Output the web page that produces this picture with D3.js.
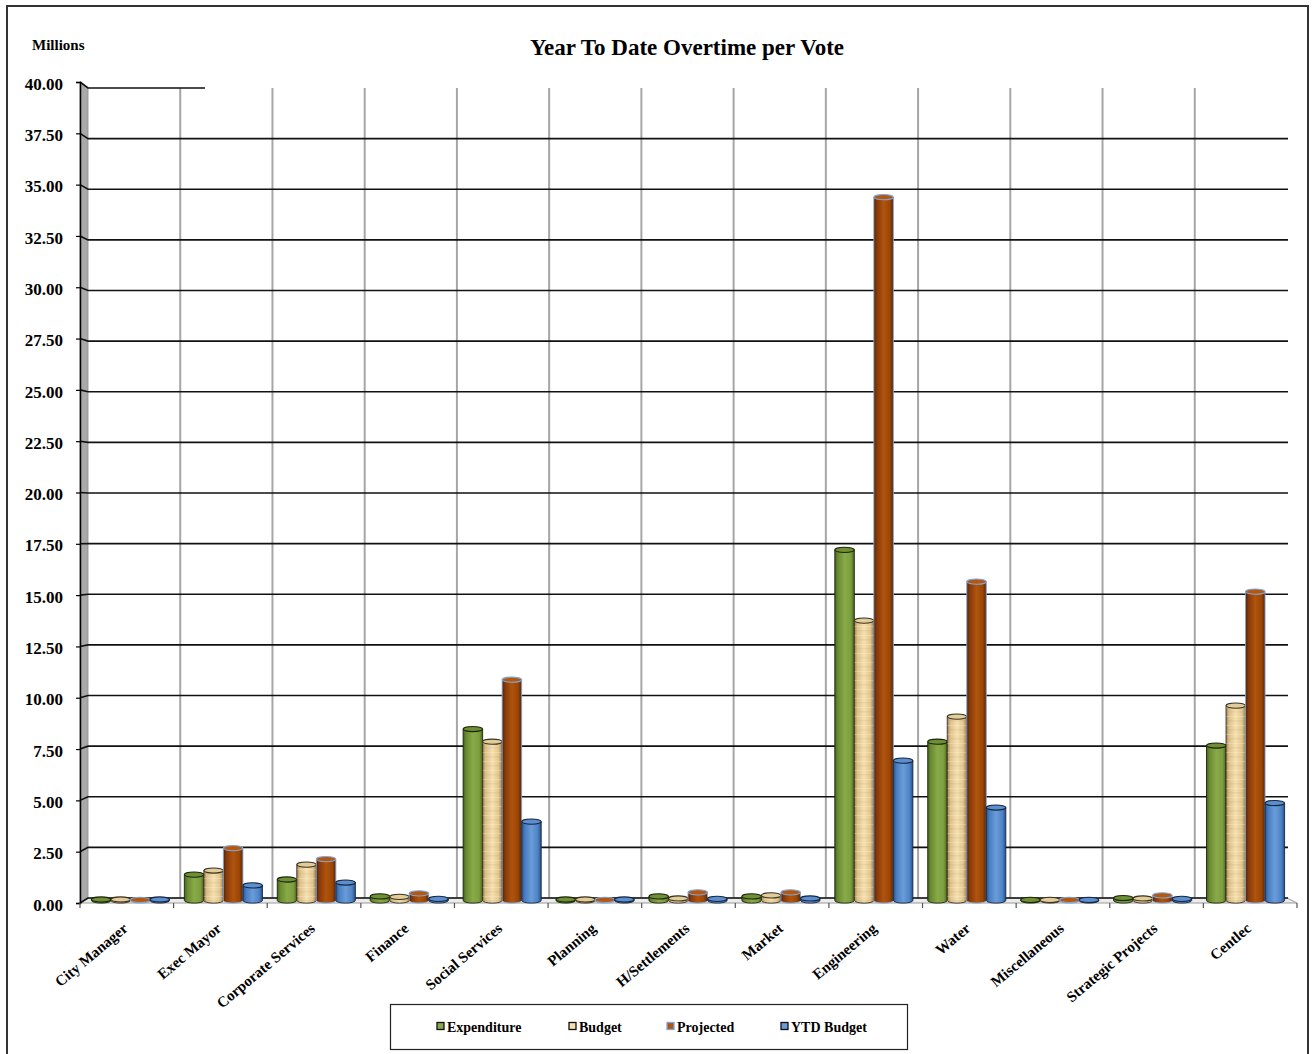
<!DOCTYPE html>
<html>
<head>
<meta charset="utf-8">
<script src="https://cdn.jsdelivr.net/npm/d3@7"></script>
<style>
  html, body { margin: 0; padding: 0; background: #fff; }
  svg { display: block; }
  text { font-family: "Liberation Serif", "Times New Roman", serif; font-weight: bold; fill: #000; }
</style>
</head>
<body>
<svg id="chart" width="1315" height="1054"></svg>
<script>
// Overtime per vote, in millions
const categories = ["City Manager", "Exec Mayor", "Corporate Services", "Finance", "Social Services",
  "Planning", "H/Settlements", "Market", "Engineering", "Water", "Miscellaneous", "Strategic Projects", "Centlec"];
const expenditure = [0.05, 1.27, 1.03, 0.20, 8.41, 0.05, 0.20, 0.20, 17.20, 7.79, 0.03, 0.12, 7.60];
const budget      = [0.05, 1.47, 1.76, 0.18, 7.79, 0.05, 0.10, 0.25, 13.73, 9.02, 0.03, 0.10, 9.56];
const projected   = [0.03, 2.57, 2.03, 0.35, 10.83, 0.03, 0.40, 0.40, 34.50, 15.64, 0.03, 0.25, 15.15];
const ytdBudget   = [0.05, 0.74, 0.88, 0.08, 3.87, 0.05, 0.08, 0.10, 6.86, 4.56, 0.03, 0.08, 4.78];
const seriesNames = ["Expenditure", "Budget", "Projected", "YTD Budget"];
const yTicks = [0, 2.5, 5, 7.5, 10, 12.5, 15, 17.5, 20, 22.5, 25, 27.5, 30, 32.5, 35, 37.5, 40];

const seriesValues = [expenditure, budget, projected, ytdBudget];

const svg = d3.select("#chart");
const defs = svg.append("defs");

// ---- 3D box geometry: depth t = 0 at back wall, 1 at front edge ----
const backL = 88, backR = 1287, backB = 898, backT = 88;
const dxL = -8, dxR = 10, dyB = 5, dyT = -6;
const xAt = t => d3.scaleLinear().domain([0, categories.length]).range([backL + dxL * t, backR + dxR * t]);
const yAt = t => d3.scaleLinear().domain([0, 40]).range([backB + dyB * t, backT + dyT * t]);
const xBack = xAt(0), xFront = xAt(1);
const yBack = yAt(0), yFront = yAt(1), yMid = yAt(0.5);

// ---- styles ----
const seriesStyle = [
  { stops: ["#44601c", "#6a8a30", "#88aa48", "#7e9e3e", "#4a6620"], top: "#6f8f34", stroke: "#1c260a" },
  { stops: ["#9c8054", "#dcc08a", "#f6e0b0", "#e2c68e", "#9a7e52"], top: "#e2cc98", stroke: "#3a3222" },
  { stops: ["#552200", "#86390a", "#b0540e", "#9a4606", "#582400"], top: "#b4580f", stroke: "#7fa6dc" },
  { stops: ["#264f8c", "#467cc0", "#6a9cd8", "#4e84c6", "#28528e"], top: "#5b8fd0", stroke: "#16263e" }
];
seriesStyle.forEach((s, i) => {
  const g = defs.append("linearGradient").attr("id", "grad" + i)
    .attr("x1", "0%").attr("x2", "100%").attr("y1", "0%").attr("y2", "0%");
  [0, 0.15, 0.5, 0.82, 1].forEach((o, k) => g.append("stop").attr("offset", o).attr("stop-color", s.stops[k]));
});
// faint horizontal grain on the budget cylinders
const grain = defs.append("pattern").attr("id", "grain").attr("patternUnits", "userSpaceOnUse")
  .attr("width", 40).attr("height", 9);
grain.append("rect").attr("y", 0).attr("width", 40).attr("height", 1.5).attr("fill", "#b09058").attr("opacity", 0.12);
grain.append("rect").attr("y", 5).attr("width", 40).attr("height", 1).attr("fill", "#fff6dc").attr("opacity", 0.25);

// ---- outer frame ----
svg.append("rect").attr("x", 7).attr("y", 6).attr("width", 1301).attr("height", 1060)
  .attr("fill", "none").attr("stroke", "#333").attr("stroke-width", 2);

// ---- title and unit label ----
svg.append("text").attr("x", 687).attr("y", 55).attr("text-anchor", "middle")
  .attr("font-size", 23).text("Year To Date Overtime per Vote");
svg.append("text").attr("x", 32).attr("y", 50).attr("font-size", 15).text("Millions");

// ---- left wall and floor ----
svg.append("path")
  .attr("d", `M${xBack(0)},${yBack(40)} L${xFront(0)},${yFront(40)} L${xFront(0)},${yFront(0)} L${xBack(0)},${yBack(0)} Z`)
  .attr("fill", "#a9a9a9").attr("stroke", "#8a8a8a").attr("stroke-width", 0.8);
svg.append("path")
  .attr("d", `M${xBack(0)},${yBack(0)} L${xBack(categories.length)},${yBack(0)} L${xFront(categories.length)},${yFront(0)} L${xFront(0)},${yFront(0)} Z`)
  .attr("fill", "#ececec").attr("stroke", "#9a9a9a").attr("stroke-width", 1);

// ---- vertical category gridlines on the back wall ----
svg.append("g").selectAll("line").data(d3.range(1, categories.length)).join("line")
  .attr("x1", d => xBack(d)).attr("x2", d => xBack(d))
  .attr("y1", yBack(40)).attr("y2", yBack(0))
  .attr("stroke", "#a6a6a6").attr("stroke-width", 2);

// ---- horizontal value gridlines (running across the side wall and back wall) ----
svg.append("g").selectAll("path").data(yTicks).join("path")
  .attr("d", d => {
    const xEnd = d === 40 ? 205 : xBack(categories.length) + 1;
    return `M${xFront(0)},${yFront(d)} L${xBack(0)},${yBack(d)} L${xEnd},${yBack(d)}`;
  })
  .attr("fill", "none").attr("stroke", "#111").attr("stroke-width", 1.6);

// ---- value axis on the front-left edge ----
const yAxis = d3.axisLeft(yFront).tickValues(yTicks).tickFormat(d3.format(".2f")).tickSize(4).tickPadding(13);
const yAxisG = svg.append("g").attr("transform", `translate(${xFront(0)},0)`).call(yAxis);
yAxisG.select(".domain").attr("stroke", "#000").attr("stroke-width", 1.5);
yAxisG.selectAll(".tick line").attr("stroke", "#000").attr("stroke-width", 1.2);
yAxisG.selectAll(".tick text").attr("font-size", 17).attr("font-family", "Liberation Serif, serif")
  .attr("font-weight", "bold").attr("fill", "#000").attr("dy", "0.42em");

// ---- category ticks on the front floor edge ----
svg.append("g").selectAll("line").data(d3.range(0, categories.length + 1)).join("line")
  .attr("x1", d => xFront(d)).attr("x2", d => xFront(d))
  .attr("y1", d => yFront(0)).attr("y2", d => yFront(0) + 5)
  .attr("stroke", "#555").attr("stroke-width", 1.2);

// ---- category labels ----
svg.append("g").selectAll("text").data(categories).join("text")
  .attr("transform", (d, i) => `translate(${xFront(i + 0.5) + 2},${yFront(0) + 27}) rotate(-40)`)
  .attr("text-anchor", "end").attr("font-size", 15).text(d => d);

// ---- cylinders at mid depth ----
const xBand = d3.scaleBand().domain(categories).range([xAt(0.5)(0), xAt(0.5)(categories.length)]).padding(0);
const xSub = d3.scaleBand().domain(seriesNames).range([0, xBand.bandwidth()]).paddingInner(0).paddingOuter(0.38);
const ry = 2.6;

const rows = [];
categories.forEach((c, i) => seriesNames.forEach((s, k) =>
  rows.push({ cat: c, k, value: seriesValues[k][i] })));

const bars = svg.append("g").selectAll("g").data(rows).join("g")
  .attr("transform", d => `translate(${xBand(d.cat) + xSub(seriesNames[d.k])},0)`);

const w = xSub.bandwidth();
const bodyPath = d => {
  const yt = yMid(d.value), yb = yMid(0);
  return `M0,${yt} L0,${yb} A${w / 2},${ry} 0 0 0 ${w},${yb} L${w},${yt} Z`;
};
bars.append("path").attr("d", bodyPath)
  .attr("fill", d => `url(#grad${d.k})`)
  .attr("stroke", d => seriesStyle[d.k].stroke).attr("stroke-width", 0.9);
bars.filter(d => d.k === 1).append("path").attr("d", bodyPath).attr("fill", "url(#grain)");
bars.append("ellipse")
  .attr("cx", w / 2).attr("cy", d => yMid(d.value)).attr("rx", w / 2).attr("ry", ry)
  .attr("fill", d => seriesStyle[d.k].top)
  .attr("stroke", d => seriesStyle[d.k].stroke).attr("stroke-width", 1.1);

// ---- legend ----
const legend = svg.append("g");
legend.append("rect").attr("x", 390.5).attr("y", 1004.5).attr("width", 517).attr("height", 45)
  .attr("fill", "#fff").attr("stroke", "#222").attr("stroke-width", 1.2);
const legendX = [437, 569, 667, 781];
const legendItems = legend.selectAll("g").data(seriesNames).join("g")
  .attr("transform", (d, i) => `translate(${legendX[i]},1027)`);
legendItems.append("rect").attr("x", 0).attr("y", -4.5).attr("width", 7).attr("height", 7)
  .attr("fill", (d, i) => seriesStyle[i].stops[2])
  .attr("stroke", (d, i) => i === 2 ? "#7fa6dc" : "#111").attr("stroke-width", 1.3);
legendItems.append("text").attr("x", 10).attr("y", 4.5).attr("font-size", 14).text(d => d);
</script>
</body>
</html>
